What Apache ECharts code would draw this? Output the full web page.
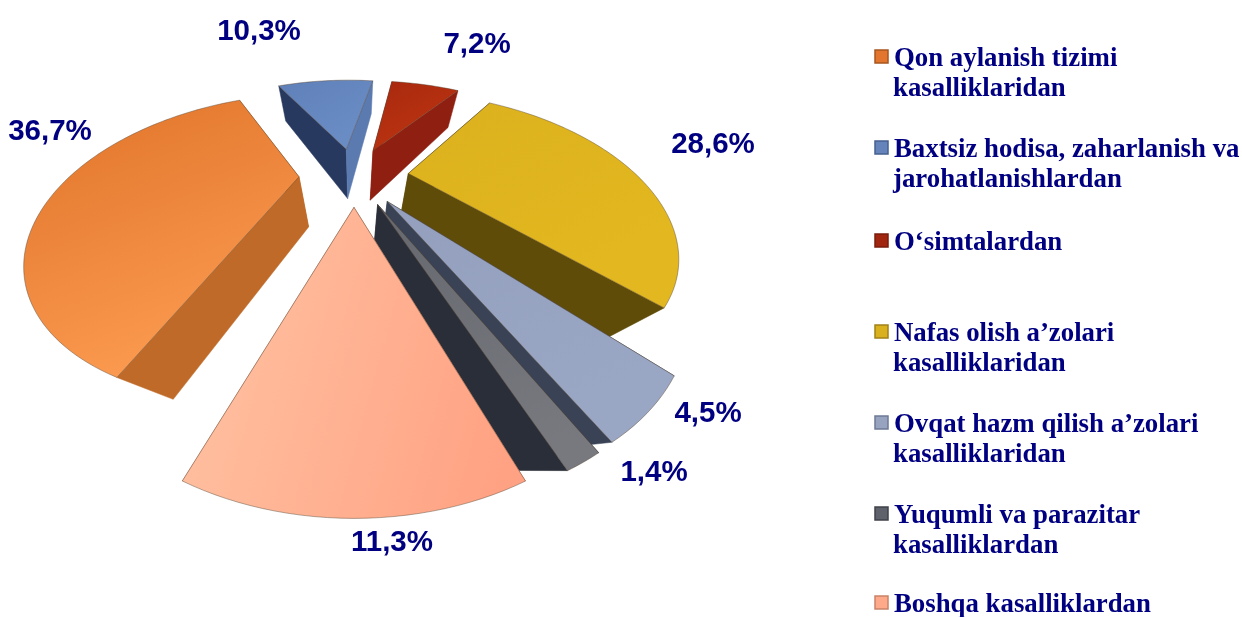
<!DOCTYPE html>
<html><head><meta charset="utf-8">
<style>html,body{margin:0;padding:0;background:#fff}#c{width:1242px;height:617px}</style>
<script src="https://cdn.jsdelivr.net/npm/echarts@6/dist/echarts.min.js"></script>
</head><body><div id="c"></div>
<script>
const categories = [
  "Qon aylanish tizimi\nkasalliklaridan",
  "Baxtsiz hodisa, zaharlanish va\njarohatlanishlardan",
  "O‘simtalardan",
  "Nafas olish a’zolari\nkasalliklaridan",
  "Ovqat hazm qilish a’zolari\nkasalliklaridan",
  "Yuqumli va parazitar\nkasalliklardan",
  "Boshqa kasalliklardan"
];
const values = [36.7, 10.3, 7.2, 28.6, 4.5, 1.4, 11.3];

// styling and layout, kept apart from the data
const faceColors = [["#df7329","#fb9a50"],["#5f80b8","#6a8cc4"],["#a8280f","#bb3410"],["#dbb11e","#e2b71f"],["#939fbd","#9aa7c4"],["#66686f","#77797f"],["#ffc2a2","#ffa283"]];
const wallColors = [["#bf6a28","#bf6a28"],["#28395f","#5a7ab0"],["#8f1f10","#8f1f10"],["#5f4c09","#5f4c09"],["#394355","#394355"],["#2a2e39","#2a2e39"],["#d08a70","#d08a70"]];
const legendColors = ["#e2762f","#6484bb","#a0260f","#d9b11f","#97a3bf","#5f626b","#fda98a"];
const legendBorders = ["#a8561f","#46608f","#7a1c0c","#a08318","#6f7a95","#3f424a","#c98268"];
const drawOrder = [2,0,1,3,4,5,6];
const labelCenters = [[50,132],[259,32],[477,45],[713,145],[708,414],[654,473],[392,543]];
const legendFirstLine = [57,148,241,332,423,514,603];
const startClockDeg = 200.35, explode = 0.24;
const cx = 354, cy = 175, radiusX = 228, radiusY = 120, persp = 0.457;
const vanish = [355,470];

function project(X, Y){
  const w = 1/(1 - persp*Y);
  return [cx + radiusX*X*w, cy + radiusY*Y*w, Y];
}
function lower(p){
  const e = 0.17 + 0.07*p[2];
  return [p[0] + (vanish[0]-p[0])*e, p[1] + (vanish[1]-p[1])*e];
}
const total = values.reduce((a,b)=>a+b,0);
function renderItem(params, api){
  const i = params.dataIndex;
  let before = 0;
  for(let k=0;k<i;k++) before += values[k];
  const v = api.value(0);
  const a0 = (startClockDeg + before/total*360)*Math.PI/180;
  const a1 = a0 + v/total*2*Math.PI;
  const mid = (a0+a1)/2;
  const ox = explode*Math.sin(mid), oy = -explode*Math.cos(mid);
  const apex = project(ox, oy);
  const pts = [apex];
  const n = Math.max(8, Math.round((a1-a0)*40));
  for(let k=0;k<=n;k++){
    const t = a0 + (a1-a0)*k/n;
    pts.push(project(ox+Math.sin(t), oy-Math.cos(t)));
  }
  const first = pts[1], last = pts[pts.length-1];
  const z = drawOrder.indexOf(i)*3 + 1;
  const wall = (p, q, color, zz) => ({
    type:'polygon', z2:zz,
    shape:{points:[[p[0],p[1]],[q[0],q[1]],lower(q),lower(p)]},
    style:{fill:color, stroke:color, lineWidth:0.5}
  });
  return {type:'group', children:[
    wall(apex, first, wallColors[i][0], z),
    wall(apex, last, wallColors[i][1], z),
    {type:'polygon', z2:z+1,
     shape:{points:pts.map(p=>[p[0],p[1]])},
     style:{
       fill:{type:'linear', x:0, y:i===6?0.3:0, x2:i===6?1:0.4, y2:i===6?0.6:1,
             colorStops:[{offset:0,color:faceColors[i][0]},{offset:1,color:faceColors[i][1]}]},
       stroke:'rgba(90,70,50,0.45)', lineWidth:1
     }}
  ]};
}

const graphics = [];
values.forEach((v,i)=>{
  graphics.push({type:'text', z:10, x:labelCenters[i][0], y:labelCenters[i][1],
    style:{text:v.toFixed(1).replace('.',',')+'%', align:'center', verticalAlign:'middle',
      font:'bold 29.5px "Liberation Sans", Arial, sans-serif', fill:'#000080'}});
  graphics.push({type:'rect', z:10, shape:{x:875,y:legendFirstLine[i]-7,width:13,height:13},
    style:{fill:legendColors[i], stroke:legendBorders[i], lineWidth:1.5}});
  categories[i].split('\n').forEach((line,j)=>{
    graphics.push({type:'text', z:10, x:j===0?894:893, y:legendFirstLine[i]+2+j*30,
      style:{text:line, align:'left', verticalAlign:'middle',
        font:'bold 26.8px "Liberation Serif", "Times New Roman", serif', fill:'#000080'}});
  });
});

const chart = echarts.init(document.getElementById('c'), null, {renderer:'canvas'});
chart.setOption({
  animation:false,
  backgroundColor:'#fff',
  graphic:{elements:graphics},
  series:[{
    type:'custom', coordinateSystem:'none', renderItem,
    silent:true, clip:false,
    data:values.map((v,i)=>({name:categories[i], value:[v]}))
  }]
});
</script></body></html>
